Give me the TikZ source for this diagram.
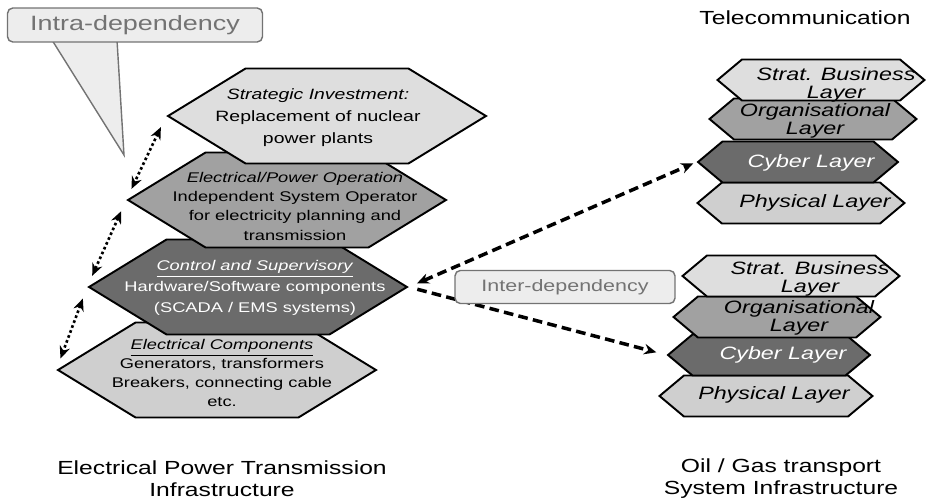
\documentclass[tikz,border=0pt]{standalone}
\usepackage{fontspec}
\setmainfont{Liberation Sans}[FakeStretch=1.3]
\usetikzlibrary{shapes.symbols,arrows.meta}

\definecolor{layerlight}{gray}{0.87}
\definecolor{layermid}{gray}{0.63}
\definecolor{layerdark}{gray}{0.42}
\definecolor{layerpale}{gray}{0.81}
\definecolor{notefill}{gray}{0.93}
\definecolor{notegray}{gray}{0.45}

\tikzset{
  layer/.style={signal, signal to=east and west, draw=black, line width=1.1pt,
    inner sep=0pt, minimum width=6.36cm, minimum height=1.9cm, signal pointer angle=63},
  sublayer/.style={layer, minimum width=4.14cm, minimum height=0.82cm, signal pointer angle=80},
  layertext/.style={align=center, inner sep=0pt, font=\fontsize{8}{11}\selectfont},
  subtext/.style={align=center, inner sep=0pt, font=\fontsize{10.2}{10.5}\selectfont\itshape},
  caption/.style={align=center, inner sep=0pt, font=\fontsize{10.8}{12.5}\selectfont},
  notebox/.style={draw=notegray, fill=notefill, rounded corners=3pt, line width=0.8pt, text=notegray},
  intradep/.style={<->, line width=1.5pt, dash pattern=on 1.5pt off 1.5pt, shorten <=7pt, shorten >=7pt},
  interdep/.style={line width=2pt, dash pattern=on 5.5pt off 3pt}
}

\begin{document}
\begin{tikzpicture}[x=0.02cm, y=-0.02cm, >={Stealth[length=7pt,width=6pt]}]
  \useasboundingbox (0,0) rectangle (927,504);

  % power transmission stack, bottom layer first
  \node[layer, fill=layerpale] (comp) at (217,370) {};
  \node[layer, fill=layerdark] (ctrl) at (248,287) {};
  \node[layer, fill=layermid] (oper) at (287,200) {};
  \node[layer, fill=layerlight] (strat) at (327,116) {};

  % telecommunication stack
  \node[sublayer, fill=layerpale] (tPhys) at (801,203) {};
  \node[sublayer, fill=layerdark, minimum width=4cm] (tCyber) at (798,162) {};
  \node[sublayer, fill=layermid] (tOrg) at (813,119) {};
  \node[sublayer, fill=layerlight] (tStrat) at (821,80) {};

  % oil / gas stack
  \node[sublayer, fill=layerpale, minimum width=4.26cm] (gPhys) at (766,396) {};
  \node[sublayer, fill=layerdark, minimum width=4.04cm] (gCyber) at (769,355) {};
  \node[sublayer, fill=layermid] (gOrg) at (777,317) {};
  \node[sublayer, fill=layerlight, minimum width=4.34cm] (gStrat) at (791,276) {};

  % layer texts
  \node[layertext, font=\fontsize{8.5}{12.5}\selectfont] (stratText) at (318,118)
    {\textit{Strategic Investment:}\\Replacement of nuclear\\power plants};
  \node[layertext] (operText) at (295,206)
    {\textit{Electrical/Power Operation}\\Independent System Operator\\for electricity planning and\\transmission};
  \node[layertext, text=white, font=\fontsize{8}{12}\selectfont] (ctrlText) at (255,288)
    {\underline{\textit{Control and Supervisory}}\\Hardware/Software components\\(SCADA / EMS systems)};
  \node[layertext, font=\fontsize{8}{10.8}\selectfont] (compText) at (222,373)
    {\underline{\textit{Electrical Components}}\\Generators, transformers\\Breakers, connecting cable\\etc.};

  \node[subtext] (tStratText) at (836,85) {Strat. Business\\Layer};
  \node[subtext] (tOrgText) at (815,121) {Organisational\\Layer};
  \node[subtext, text=white] (tCyberText) at (811,163) {Cyber Layer};
  \node[subtext] (tPhysText) at (815,203) {Physical Layer};

  \node[subtext] (gStratText) at (810,279) {Strat. Business\\Layer};
  \node[subtext] (gOrgText) at (799,318) {Organisational\\Layer};
  \node[subtext, text=white] (gCyberText) at (783,355) {Cyber Layer};
  \node[subtext] (gPhysText) at (774,395) {Physical Layer};

  % captions
  \node[caption] (telecomCap) at (805,18) {Telecommunication};
  \node[caption] (elecCap) at (222,479) {Electrical Power Transmission\\Infrastructure};
  \node[caption] (oilCap) at (781,479) {Oil / Gas transport\\System Infrastructure};

  % intra-dependency note and its pointer
  \coordinate (intraTip) at (124,155);
  \draw[notegray, line width=0.8pt, fill=notefill] (52,40) -- (intraTip) -- (117,40);
  \node[notebox, minimum width=5.1cm, minimum height=0.68cm,
    font=\fontsize{11.8}{12}\selectfont] (intra) at (135,25) {Intra-dependency};

  \draw[intradep] (strat.west) -- (oper.west);
  \draw[intradep] (oper.west) -- (ctrl.west);
  \draw[intradep] (ctrl.west) -- (comp.west);

  % inter-dependency
  \draw[interdep, <->, shorten <=5pt, shorten >=2pt] (ctrl.east) -- (tCyber.west);
  \draw[interdep, ->, shorten <=5pt, shorten >=6pt] (ctrl.east) -- (gCyber.west);
  \node[notebox, minimum width=4.4cm, minimum height=0.66cm,
    font=\fontsize{9.4}{10}\selectfont] (inter) at (565,287) {Inter-dependency};
\end{tikzpicture}
\end{document}
